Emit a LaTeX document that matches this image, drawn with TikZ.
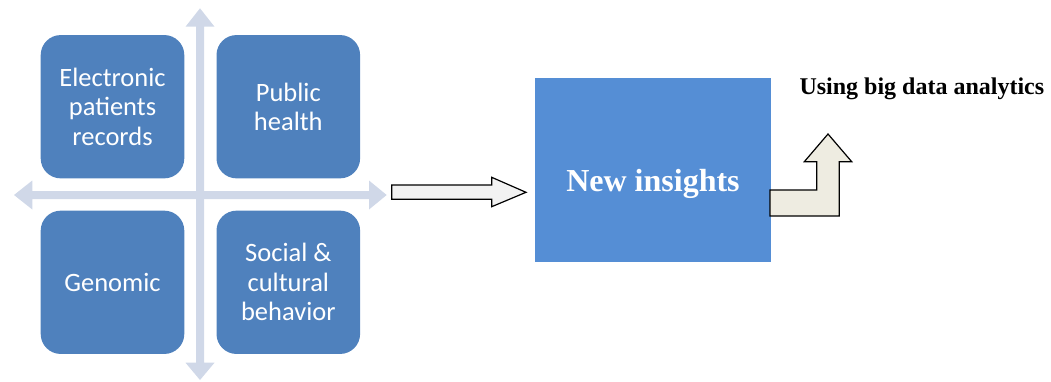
\documentclass[tikz,border=0pt]{standalone}
\usepackage{fontspec}
\setmainfont{Liberation Serif}
\newfontfamily\boxfont{Carlito}
\definecolor{quadblue}{HTML}{4F81BD}
\definecolor{crossc}{HTML}{D0D8E8}
\definecolor{insblue}{HTML}{558ED5}
\definecolor{hollowc}{HTML}{F2F2F2}
\definecolor{bentc}{HTML}{EEECE1}
\begin{document}
\begin{tikzpicture}[x=1pt,y=-1pt,
  quad/.style={fill=quadblue, rounded corners=20pt, minimum width=143.6pt,
    minimum height=143.3pt, inner sep=0pt, text=white, align=center,
    font=\boxfont\fontsize{26.5}{29.5}\selectfont},
  blockarrow/.style={draw=black, line width=1.2pt, line join=miter},
  boldtext/.style={font=\bfseries\fontsize{#1}{#1}\selectfont}]
\useasboundingbox (0,0) rectangle (1051,381);

% double-headed cross behind the four quadrants
\fill[crossc] (196,26.7) -- (185.5,26.7) -- (200,8.3) -- (214.5,26.7) -- (204,26.7)
  -- (204,362.7) -- (214.5,362.7) -- (200,380) -- (185.5,362.7) -- (196,362.7) -- cycle;
\fill[crossc] (32.3,191) -- (32.3,180.5) -- (14,195) -- (32.3,209.5) -- (32.3,199)
  -- (369,199) -- (369,209.5) -- (386.7,195) -- (369,180.5) -- (369,191) -- cycle;

% quadrants
\node[quad] (ehr) at (112.5,106.7) {Electronic\\patients\\records};
\node[quad] (pub) at (288.3,106.7) {Public\\health};
\node[quad] (gen) at (112.5,282.3) {Genomic};
\node[quad] (soc) at (288.3,282.3) {Social \&\\cultural\\behavior};

% result box
\node[fill=insblue, minimum width=235.7pt, minimum height=184pt, inner sep=0pt] (ins) at (652.9,169.7) {};
\node[boldtext=32, text=white, anchor=base] (instext) at (653,191) {New insights};

% hollow arrow into the result box
\draw[blockarrow, fill=hollowc] (391.7,185) -- (491.7,185) -- (491.7,177.3) -- (526,192.3)
  -- (491.7,206.7) -- (491.7,199.3) -- (391.7,199.3) -- cycle;

% bent arrow leaving the result box
\draw[blockarrow, fill=bentc] (770,216) -- (839.3,216) -- (839.3,161.7) -- (851.7,161.7)
  -- (828,134) -- (804.3,161.7) -- (816.7,161.7) -- (816.7,190) -- (770,190) -- cycle;

\node[boldtext=24, anchor=base west, inner sep=0pt] (big) at (799.3,94.3) {Using big data analytics};
\end{tikzpicture}
\end{document}
